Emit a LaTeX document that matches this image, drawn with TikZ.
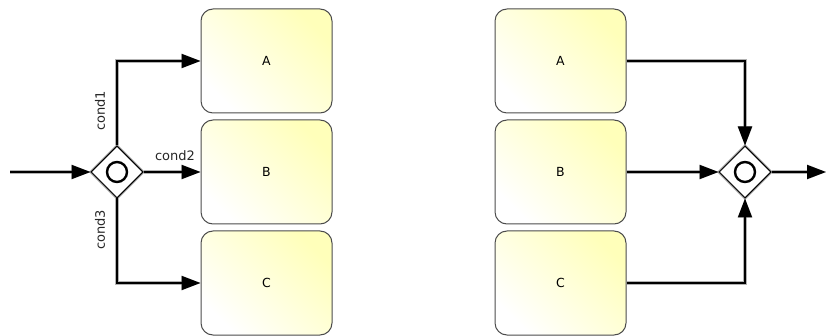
\documentclass[tikz,border=0pt]{standalone}
\usepackage{fontspec}
\setmainfont{DejaVu Sans}
\usetikzlibrary{arrows.meta,shapes.geometric}
\tikzset{
  task/.style={draw=black!70, line width=1pt, rounded corners=12pt, minimum width=131pt, minimum height=104pt,
    left color=white, right color=yellow!27, shading angle=135, font=\fontsize{12.5}{14}\selectfont, inner sep=0pt},
  gw/.style={diamond, draw=black, line width=1pt, fill=white, minimum width=52pt, minimum height=52pt, inner sep=0pt,
    preaction={draw=black!40, line width=2.8pt}},
  flow/.style={line width=1.4pt, draw=black, preaction={draw=black!30, line width=3.4pt},
    -{Triangle[length=19pt,width=14pt]}},
  lbl/.style={font=\fontsize{13}{15}\selectfont, inner sep=0pt, text=black!85}
}
\begin{document}
\begin{tikzpicture}[x=1pt,y=-1pt]
\useasboundingbox (0,0) rectangle (826,336);
% left side
\node[task] (A1) at (266.5,61) {A};
\node[task] (B1) at (266.5,172) {B};
\node[task] (C1) at (266.5,283) {C};
\node[gw] (G1) at (117,172) {};
\draw[black, line width=2.4pt] (G1.center) circle (10pt);
\coordinate (in1) at (10,172);
\draw[flow] (in1) -- (G1.west);
\draw[flow] (G1.north) |- (A1.west);
\draw[flow] (G1.east) -- (B1.west);
\draw[flow] (G1.south) |- (C1.west);
\node[lbl, rotate=90] (c1) at (100,111) {cond1};
\node[lbl] (c2) at (175,156) {cond2};
\node[lbl, rotate=90] (c3) at (100,230) {cond3};
% right side
\node[task] (A2) at (560.5,61) {A};
\node[task] (B2) at (560.5,172) {B};
\node[task] (C2) at (560.5,283) {C};
\node[gw] (G2) at (745,172) {};
\draw[black, line width=2.4pt] (G2.center) circle (10pt);
\coordinate (out2) at (826,172);
\draw[flow] (A2.east) -| (G2.north);
\draw[flow] (B2.east) -- (G2.west);
\draw[flow] (C2.east) -| (G2.south);
\draw[flow] (G2.east) -- (out2);
\end{tikzpicture}
\end{document}
